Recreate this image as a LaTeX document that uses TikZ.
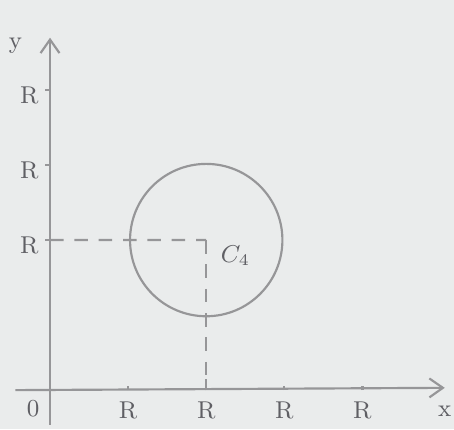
\documentclass[tikz,border=0pt]{standalone}
\usepackage{tikz}
\usetikzlibrary{arrows.meta, positioning, calc}
\usepackage{xcolor}
\definecolor{papel}{RGB}{234, 236, 236}
\definecolor{traco}{RGB}{150, 150, 152}
\definecolor{tinta}{RGB}{95, 95, 100}

\begin{document}
\begin{tikzpicture}[
    eixo/.style={
        draw=traco,
        thick,
        -{Straight Barb[length=5pt, width=7pt]}
    },
    guia/.style={
        draw=traco,
        thick,
        dash pattern=on 5pt off 4pt
    },
    marca/.style={
        draw=traco,
        thick
    },
    rotulo/.style={
        text=tinta,
        font=\small,
        inner sep=1pt
    }
]

% fundo e limites
\fill[papel] (-0.65,-0.51) rectangle (5.25,5.07);
\useasboundingbox (-0.65,-0.51) rectangle (5.25,5.07);

% =================================================
% EIXOS
% =================================================

\coordinate (O) at (0,0);
\coordinate (xini) at (-0.45,0);
\coordinate (xfim) at (5.13,0.03);
\coordinate (yini) at (0,-0.45);
\coordinate (yfim) at (0,4.58);

\draw[eixo] (xini) -- (xfim);
\draw[eixo] (yini) -- (yfim);

\node[rotulo] (origem) at (-0.22,-0.24) {0};
\node[rotulo] (rx) at (5.13,-0.28) {x};
\node[rotulo] (ry) at (-0.45,4.48) {y};

% marcas no eixo x
\foreach \i in {1,2,3,4} {
    \coordinate (tx\i) at (\i*1.015,0);
    \draw[marca] (tx\i) -- ++(0,0.06);
    \node[rotulo] (lx\i) at (\i*1.015,-0.26) {R};
}
\draw[marca] (tx2) -- ++(0,0.14);

% marcas no eixo y
\foreach \i in {2,3,4} {
    \coordinate (ty\i) at (0,\i*0.975);
    \draw[marca] (ty\i) -- ++(-0.06,0);
    \node[rotulo] (ly\i) at (-0.27,\i*0.975-0.07) {R};
}

% =================================================
% CIRCUNFERENCIA
% =================================================

\coordinate (C) at (2.03,1.95);

\draw[marca] (C) circle [x radius=0.99, y radius=0.99];

% projeções do centro
\draw[guia] (ty2) -- (C);
\draw[guia] (C) -- (tx2);

\node[rotulo] (c4) at (2.41,1.75) {$C_4$};

\end{tikzpicture}
\end{document}
